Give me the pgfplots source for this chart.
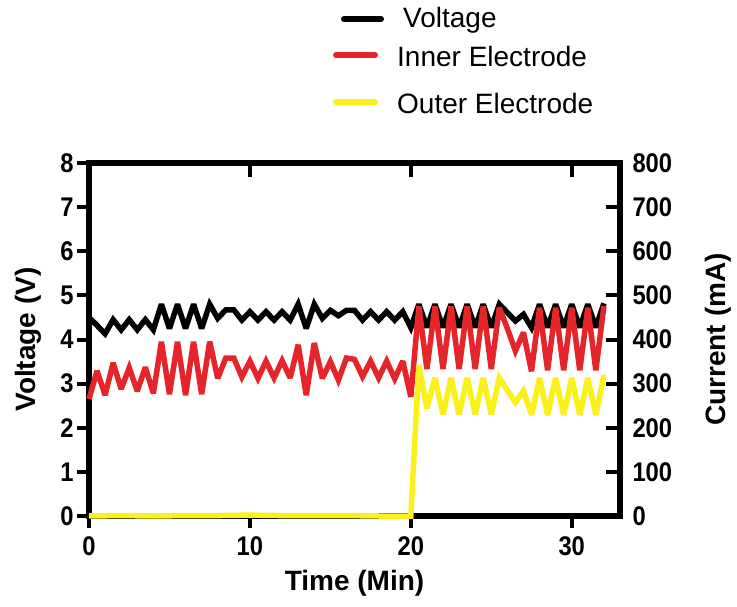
\documentclass[border=0pt]{standalone}
\usepackage{fontspec}
\setmainfont{Liberation Sans}
\newfontfamily\tickfont[FakeStretch=0.88]{Liberation Sans}
\usepackage{pgfplots}
\usepackage{pgfplotstable}
\pgfplotsset{compat=1.18}
\definecolor{inner}{RGB}{228,38,43}
\definecolor{outer}{RGB}{250,240,30}

% time (min), voltage (V)
\pgfplotstableread{
t v
0 4.50
0.5 4.32
1 4.13
1.5 4.45
2 4.22
2.5 4.45
3 4.22
3.5 4.45
4 4.22
4.5 4.80
5 4.25
5.5 4.80
6 4.25
6.5 4.80
7 4.25
7.5 4.80
8 4.48
8.5 4.67
9 4.67
9.5 4.44
10 4.63
10.5 4.44
11 4.63
11.5 4.44
12 4.63
12.5 4.44
13 4.80
13.5 4.25
14 4.80
14.5 4.48
15 4.66
15.5 4.54
16 4.66
16.5 4.66
17 4.44
17.5 4.63
18 4.44
18.5 4.63
19 4.44
19.5 4.63
20 4.27
20.5 4.80
21 4.27
21.5 4.80
22 4.27
22.5 4.80
23 4.27
23.5 4.80
24 4.27
24.5 4.80
25 4.27
25.5 4.80
26 4.61
26.5 4.42
27 4.57
27.5 4.27
28 4.80
28.5 4.27
29 4.80
29.5 4.27
30 4.80
30.5 4.27
31 4.80
31.5 4.27
32 4.82
}\voltage

% time (min), inner electrode current (mA)
\pgfplotstableread{
t i
0 265
0.5 329
1 274
1.5 347
2 288
2.5 336
3 283
3.5 337
4 278
4.5 395
5 276
5.5 395
6 274
6.5 395
7 276
7.5 395
8 312
8.5 358
9 358
9.5 315
10 351
10.5 312
11 351
11.5 313
12 352
12.5 313
13 388
13.5 274
14 392
14.5 312
15 350
15.5 308
16 358
16.5 355
17 316
17.5 351
18 313
18.5 351
19 311
19.5 351
20 270
20.5 475
21 333
21.5 475
22 333
22.5 475
23 333
23.5 475
24 333
24.5 475
25 333
25.5 472
26 425
26.5 374
27 416
27.5 328
28 472
28.5 330
29 472
29.5 330
30 472
30.5 330
31 472
31.5 330
32 476
}\inner

% time (min), outer electrode current (mA)
\pgfplotstableread{
t o
0 0
2 1
4 0
6 1
8 1
10 2
12 1
14 1
16 1
18 0
20 0
20.5 342
21 244
21.5 313
22 230
22.5 313
23 230
23.5 313
24 230
24.5 313
25 230
25.5 313
26 285
26.5 257
27 284
27.5 229
28 313
28.5 229
29 313
29.5 229
30 313
30.5 229
31 313
31.5 229
32 320
}\outer

\begin{document}
\begin{tikzpicture}
\path (-89pt,-90pt) rectangle (648pt,516pt);
\pgfplotsset{
  common/.style={
    at={(0,0)}, anchor=south west,
    width=531pt, height=353pt, scale only axis,
    xmin=0, xmax=33,
    clip=false,
    major tick length=12pt,
    tick style={line width=4pt, black},
    ticklabel style={font=\fontsize{27}{27}\selectfont\tickfont\bfseries},
    /pgf/number format/assume math mode=true,
    label style={font=\fontsize{28}{28}\selectfont\bfseries},
  },
  frame/.style={
    axis line style={line width=5.5pt, black, line cap=rect},
    every outer x axis line/.append style={line width=5.5pt},
    every outer y axis line/.append style={line width=5.5pt},
  },
  trace/.style={line width=5.5pt, line join=miter, miter limit=3},
}
\begin{axis}[
  common,
  ymin=0, ymax=8,
  axis x line*=bottom, axis y line*=left,
  xtick={0,10,20,30}, ytick={0,1,...,8},
  tick align=outside,
  xticklabel style={yshift=-5pt},
  xlabel={Time (Min)}, ylabel={Voltage (V)},
  xlabel style={at={(axis description cs:0.5,-0.19)}, anchor=center},
  ylabel style={at={(axis description cs:-0.115,0.5)}, anchor=center},
  frame,
]
\addplot[black, trace] table[x=t, y=v]{\voltage};
\end{axis}
\begin{axis}[
  common,
  ymin=0, ymax=800,
  axis x line*=top, axis y line*=right,
  xtick={10,20,30}, xticklabels={},
  ytick={0,100,...,800},
  tick align=inside,
  major tick length=14pt,
  yticklabel style={xshift=9pt},
  ylabel={Current (mA)},
  ylabel style={at={(axis description cs:1.185,0.5)}, anchor=center},
  frame,
]
\addplot[inner, trace] table[x=t, y=i]{\inner};
\addplot[outer, trace] table[x=t, y=o]{\outer};
\end{axis}
% legend
\begin{scope}[font=\fontsize{28}{28}\selectfont]
\draw[black, line width=6pt, line cap=round] (255pt,497pt) -- (292pt,497pt);
\node[anchor=west, inner sep=0pt] at (314pt,496pt) {Voltage};
\draw[inner, line width=6pt, line cap=round] (247pt,461pt) -- (286pt,461pt);
\node[anchor=west, inner sep=0pt] at (308pt,460pt) {Inner Electrode};
\draw[outer, line width=6pt, line cap=round] (247pt,414pt) -- (286pt,414pt);
\node[anchor=west, inner sep=0pt] at (308pt,413pt) {Outer Electrode};
\end{scope}
\end{tikzpicture}
\end{document}
